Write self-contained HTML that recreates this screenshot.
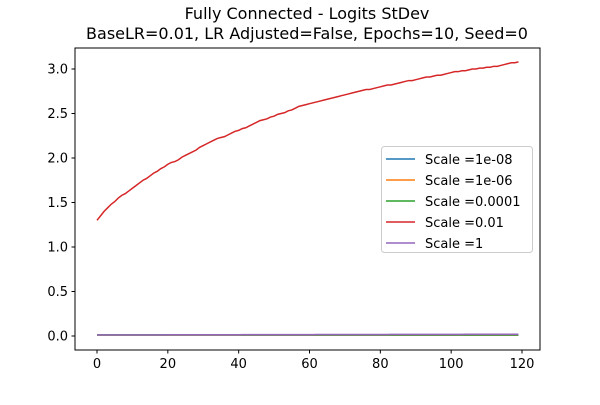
<!DOCTYPE html>
<html><head><meta charset="utf-8"><style>
body{margin:0;background:#fff}
svg{font-family:"DejaVu Sans","Liberation Sans",sans-serif}
</style></head><body>
<svg id="c" width="600" height="400" xmlns="http://www.w3.org/2000/svg">
<rect width="600" height="400" fill="#fff"/>
<text x="307" y="19" text-anchor="middle" font-size="16">Fully Connected - Logits StDev</text>
<text x="307" y="39" text-anchor="middle" font-size="16">BaseLR=0.01, LR Adjusted=False, Epochs=10, Seed=0</text>
<g id="ticks"></g>
<g id="lines"></g>
<rect x="75" y="48" width="465" height="302" fill="none" stroke="#000" stroke-width="1"/>
<g id="legend"></g>
</svg>
<script>
const xTicks=[0,20,40,60,80,100,120];
const yTicks=[0.0,0.5,1.0,1.5,2.0,2.5,3.0];
const yTickLabels=["0.0","0.5","1.0","1.5","2.0","2.5","3.0"];
const seriesNames=["Scale =1e-08","Scale =1e-06","Scale =0.0001","Scale =0.01","Scale =1"];
const seriesColors=["#1f77b4","#ff7f0e","#2ca02c","#d62728","#9467bd"];
const redValues=[1.30,1.35,1.40,1.44,1.48,1.51,1.55,1.58,1.60,1.63,1.66,1.69,1.72,1.75,1.77,1.80,1.83,1.85,1.88,1.90,1.93,1.95,1.96,1.98,2.01,2.03,2.05,2.07,2.09,2.12,2.14,2.16,2.18,2.20,2.22,2.23,2.24,2.26,2.28,2.30,2.31,2.33,2.34,2.36,2.38,2.40,2.42,2.43,2.44,2.46,2.47,2.49,2.50,2.51,2.53,2.54,2.56,2.58,2.59,2.60,2.61,2.62,2.63,2.64,2.65,2.66,2.67,2.68,2.69,2.70,2.71,2.72,2.73,2.74,2.75,2.76,2.77,2.77,2.78,2.79,2.80,2.81,2.82,2.82,2.83,2.84,2.85,2.86,2.87,2.87,2.88,2.89,2.90,2.91,2.91,2.92,2.93,2.93,2.94,2.95,2.96,2.97,2.97,2.98,2.98,2.99,3.00,3.00,3.01,3.01,3.02,3.02,3.03,3.03,3.04,3.05,3.06,3.07,3.07,3.08];
const flatValue=[0.010,0.011,0.012,0.012];
const purpleStart=0.012, purpleEnd=0.020;
const X0=97,XS=(522-97)/120,Y0=336,YS=(336-69)/3;
const xs=v=>X0+v*XS, ys=v=>Y0-v*YS;
const NS="http://www.w3.org/2000/svg";
function mk(t,a,p){const e=document.createElementNS(NS,t);for(const k in a)e.setAttribute(k,a[k]);p.appendChild(e);return e;}
const tg=document.getElementById('ticks');
xTicks.forEach(t=>{
 const l=mk('line',{x1:xs(t),x2:xs(t),y1:350,y2:353.5,stroke:'#000'},tg);
 
 
 const tx=mk('text',{x:xs(t),y:368,'text-anchor':'middle','font-size':'13'},tg);tx.textContent=t;
 
 
});
yTicks.forEach((t,i)=>{
 const l=mk('line',{x1:71.5,x2:75,y1:ys(t),y2:ys(t),stroke:'#000'},tg);
 
 
 const tx=mk('text',{x:68,y:ys(t)+4.5,'text-anchor':'end','font-size':'13'},tg);tx.textContent=yTickLabels[i];
 
 
});
const lg=document.getElementById('lines');
const n=redValues.length;
const series=[0,1,2,3,4].map(s=>{
 if(s===3)return redValues;
 if(s===4)return redValues.map((_,i)=>purpleStart+(purpleEnd-purpleStart)*i/(n-1));
 return redValues.map(()=>flatValue[s]);
});
series.forEach((d,s)=>{
 const p=mk('polyline',{points:d.map((v,i)=>xs(i)+','+ys(v)).join(' '),fill:'none',stroke:seriesColors[s],'stroke-width':'1.5'},lg);
 
 
});
const leg=document.getElementById('legend');
const box=mk('rect',{x:381.5,y:146.5,width:151,height:106,rx:3,fill:'#fff','fill-opacity':0.8,stroke:'#ccc'},leg);


seriesNames.forEach((nm,i)=>{
 const y=159+i*21;
 const l=mk('line',{x1:386,x2:415,y1:y,y2:y,stroke:seriesColors[i],'stroke-width':'1.5'},leg);
 
 
 const t=mk('text',{x:425,y:y+5,'font-size':'13'},leg);t.textContent=nm;
 
 
});
</script>
</body></html>
